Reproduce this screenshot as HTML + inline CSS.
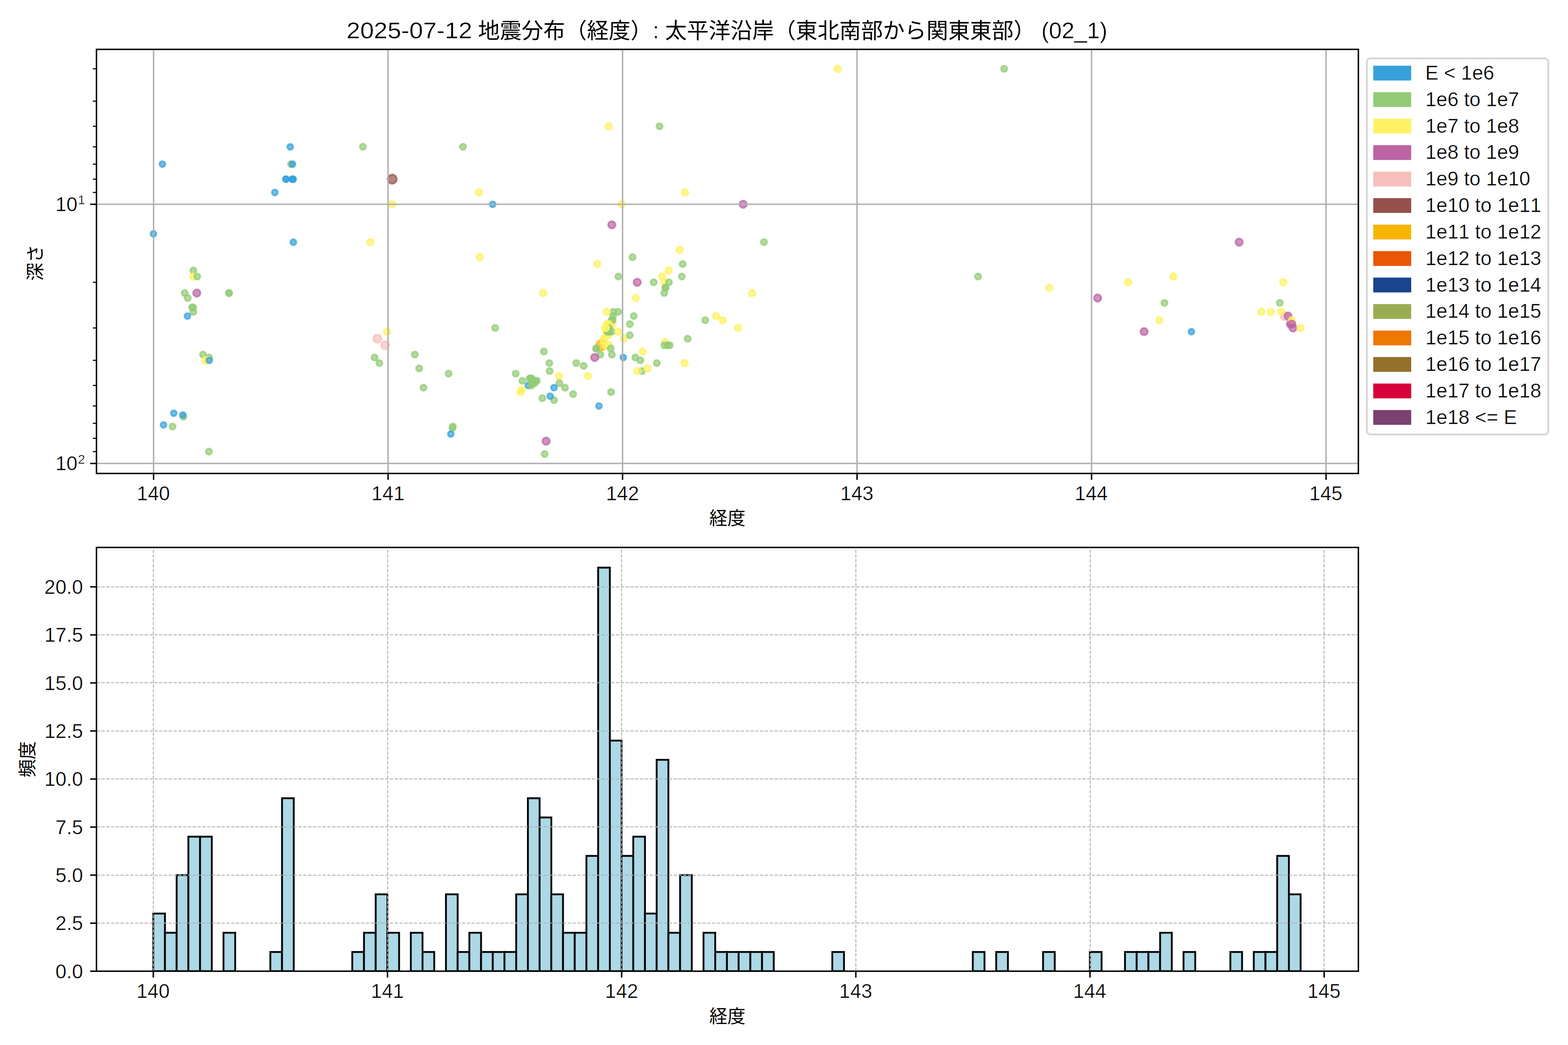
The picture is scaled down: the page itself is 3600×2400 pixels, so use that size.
<!DOCTYPE html>
<html lang="ja"><head><meta charset="utf-8"><title>2025-07-12 地震分布（経度）</title>
<style>html,body{margin:0;padding:0;background:#fff;}svg{display:block;}text{font-family:"Liberation Sans","Noto Sans CJK JP",sans-serif;fill:#000;font-kerning:none;white-space:pre;}text.t{stroke:#fff;stroke-width:0.5px;}text.j{stroke:none;}</style>
</head><body>
<svg width="3600" height="2400" viewBox="0 0 3600 2400">
<rect width="3600" height="2400" fill="#fff"/>
<clipPath id="ct"><rect x="221.50" y="113.40" width="2897.20" height="974.00"/></clipPath>
<g clip-path="url(#ct)">
<g fill-opacity="0.7" stroke-opacity="0.7" stroke-width="4.17">
<circle cx="372.8" cy="377.0" r="6.65" fill="#38A1DB" stroke="#38A1DB"/>
<circle cx="666.3" cy="337.2" r="6.65" fill="#38A1DB" stroke="#38A1DB"/>
<circle cx="668.2" cy="377.0" r="7.00" fill="#93CA76" stroke="#93CA76"/>
<circle cx="671.5" cy="377.0" r="6.65" fill="#38A1DB" stroke="#38A1DB"/>
<circle cx="670.5" cy="411.5" r="6.65" fill="#38A1DB" stroke="#38A1DB"/>
<circle cx="656.4" cy="411.5" r="6.65" fill="#38A1DB" stroke="#38A1DB"/>
<circle cx="656.6" cy="411.5" r="6.65" fill="#38A1DB" stroke="#38A1DB"/>
<circle cx="672.6" cy="411.5" r="6.65" fill="#38A1DB" stroke="#38A1DB"/>
<circle cx="672.9" cy="411.5" r="6.65" fill="#38A1DB" stroke="#38A1DB"/>
<circle cx="631.0" cy="442.0" r="6.65" fill="#38A1DB" stroke="#38A1DB"/>
<circle cx="673.5" cy="556.2" r="6.65" fill="#38A1DB" stroke="#38A1DB"/>
<circle cx="352.3" cy="537.0" r="6.65" fill="#38A1DB" stroke="#38A1DB"/>
<circle cx="443.9" cy="621.1" r="7.00" fill="#93CA76" stroke="#93CA76"/>
<circle cx="443.9" cy="635.1" r="7.57" fill="#FEF263" stroke="#FEF263"/>
<circle cx="452.8" cy="635.1" r="7.00" fill="#93CA76" stroke="#93CA76"/>
<circle cx="424.0" cy="673.0" r="7.00" fill="#93CA76" stroke="#93CA76"/>
<circle cx="451.8" cy="673.0" r="8.33" fill="#BC64A4" stroke="#BC64A4"/>
<circle cx="525.8" cy="673.0" r="7.00" fill="#93CA76" stroke="#93CA76"/>
<circle cx="525.9" cy="673.0" r="7.00" fill="#93CA76" stroke="#93CA76"/>
<circle cx="431.0" cy="684.5" r="7.00" fill="#93CA76" stroke="#93CA76"/>
<circle cx="441.0" cy="706.1" r="7.00" fill="#93CA76" stroke="#93CA76"/>
<circle cx="443.5" cy="706.1" r="7.00" fill="#93CA76" stroke="#93CA76"/>
<circle cx="443.9" cy="716.2" r="7.00" fill="#93CA76" stroke="#93CA76"/>
<circle cx="430.4" cy="725.9" r="6.65" fill="#38A1DB" stroke="#38A1DB"/>
<circle cx="466.1" cy="814.3" r="7.00" fill="#93CA76" stroke="#93CA76"/>
<circle cx="480.1" cy="821.0" r="7.00" fill="#93CA76" stroke="#93CA76"/>
<circle cx="471.6" cy="827.5" r="7.57" fill="#FEF263" stroke="#FEF263"/>
<circle cx="474.2" cy="827.5" r="7.57" fill="#FEF263" stroke="#FEF263"/>
<circle cx="477.0" cy="827.5" r="7.57" fill="#FEF263" stroke="#FEF263"/>
<circle cx="480.5" cy="827.5" r="6.65" fill="#38A1DB" stroke="#38A1DB"/>
<circle cx="398.9" cy="949.0" r="6.65" fill="#38A1DB" stroke="#38A1DB"/>
<circle cx="420.9" cy="957.0" r="7.00" fill="#93CA76" stroke="#93CA76"/>
<circle cx="419.7" cy="953.0" r="6.65" fill="#38A1DB" stroke="#38A1DB"/>
<circle cx="375.5" cy="975.9" r="6.65" fill="#38A1DB" stroke="#38A1DB"/>
<circle cx="396.1" cy="979.5" r="7.00" fill="#93CA76" stroke="#93CA76"/>
<circle cx="479.6" cy="1037.2" r="7.00" fill="#93CA76" stroke="#93CA76"/>
<circle cx="833.1" cy="337.2" r="7.00" fill="#93CA76" stroke="#93CA76"/>
<circle cx="850.3" cy="556.2" r="7.57" fill="#FEF263" stroke="#FEF263"/>
<circle cx="860.0" cy="821.0" r="7.00" fill="#93CA76" stroke="#93CA76"/>
<circle cx="866.4" cy="777.8" r="9.22" fill="#F6BFBC" stroke="#F6BFBC"/>
<circle cx="884.3" cy="793.0" r="9.22" fill="#F6BFBC" stroke="#F6BFBC"/>
<circle cx="888.6" cy="761.7" r="7.57" fill="#FEF263" stroke="#FEF263"/>
<circle cx="870.9" cy="833.9" r="7.00" fill="#93CA76" stroke="#93CA76"/>
<circle cx="900.5" cy="411.5" r="10.31" fill="#96514D" stroke="#96514D"/>
<circle cx="900.5" cy="469.2" r="7.57" fill="#FEF263" stroke="#FEF263"/>
<circle cx="952.4" cy="814.3" r="7.00" fill="#93CA76" stroke="#93CA76"/>
<circle cx="962.5" cy="846.2" r="7.00" fill="#93CA76" stroke="#93CA76"/>
<circle cx="972.3" cy="890.3" r="7.00" fill="#93CA76" stroke="#93CA76"/>
<circle cx="1029.9" cy="858.0" r="7.00" fill="#93CA76" stroke="#93CA76"/>
<circle cx="1039.6" cy="979.5" r="7.00" fill="#93CA76" stroke="#93CA76"/>
<circle cx="1038.8" cy="983.0" r="7.00" fill="#93CA76" stroke="#93CA76"/>
<circle cx="1035.0" cy="996.8" r="6.65" fill="#38A1DB" stroke="#38A1DB"/>
<circle cx="1062.9" cy="337.2" r="7.00" fill="#93CA76" stroke="#93CA76"/>
<circle cx="1099.7" cy="442.0" r="7.57" fill="#FEF263" stroke="#FEF263"/>
<circle cx="1101.4" cy="590.7" r="7.57" fill="#FEF263" stroke="#FEF263"/>
<circle cx="1131.2" cy="469.2" r="6.65" fill="#38A1DB" stroke="#38A1DB"/>
<circle cx="1136.7" cy="753.2" r="7.00" fill="#93CA76" stroke="#93CA76"/>
<circle cx="1184.0" cy="858.0" r="7.00" fill="#93CA76" stroke="#93CA76"/>
<circle cx="1199.3" cy="874.7" r="7.00" fill="#93CA76" stroke="#93CA76"/>
<circle cx="1197.9" cy="895.4" r="7.57" fill="#FEF263" stroke="#FEF263"/>
<circle cx="1194.9" cy="900.3" r="7.57" fill="#FEF263" stroke="#FEF263"/>
<circle cx="1213.0" cy="885.2" r="6.65" fill="#38A1DB" stroke="#38A1DB"/>
<circle cx="1216.0" cy="869.2" r="7.00" fill="#93CA76" stroke="#93CA76"/>
<circle cx="1218.0" cy="869.2" r="7.00" fill="#93CA76" stroke="#93CA76"/>
<circle cx="1220.5" cy="869.2" r="7.00" fill="#93CA76" stroke="#93CA76"/>
<circle cx="1222.0" cy="874.7" r="7.00" fill="#93CA76" stroke="#93CA76"/>
<circle cx="1230.0" cy="874.7" r="7.00" fill="#93CA76" stroke="#93CA76"/>
<circle cx="1232.5" cy="874.7" r="7.00" fill="#93CA76" stroke="#93CA76"/>
<circle cx="1224.0" cy="880.0" r="7.00" fill="#93CA76" stroke="#93CA76"/>
<circle cx="1227.0" cy="880.0" r="7.00" fill="#93CA76" stroke="#93CA76"/>
<circle cx="1219.5" cy="885.2" r="7.00" fill="#93CA76" stroke="#93CA76"/>
<circle cx="1246.7" cy="673.0" r="7.57" fill="#FEF263" stroke="#FEF263"/>
<circle cx="1248.6" cy="807.4" r="7.00" fill="#93CA76" stroke="#93CA76"/>
<circle cx="1261.1" cy="833.9" r="7.00" fill="#93CA76" stroke="#93CA76"/>
<circle cx="1261.8" cy="852.2" r="7.00" fill="#93CA76" stroke="#93CA76"/>
<circle cx="1245.1" cy="914.5" r="7.00" fill="#93CA76" stroke="#93CA76"/>
<circle cx="1253.8" cy="1013.1" r="8.33" fill="#BC64A4" stroke="#BC64A4"/>
<circle cx="1250.5" cy="1042.8" r="7.00" fill="#93CA76" stroke="#93CA76"/>
<circle cx="1283.6" cy="863.7" r="7.57" fill="#FEF263" stroke="#FEF263"/>
<circle cx="1284.4" cy="880.0" r="7.00" fill="#93CA76" stroke="#93CA76"/>
<circle cx="1272.0" cy="890.3" r="6.65" fill="#38A1DB" stroke="#38A1DB"/>
<circle cx="1272.0" cy="919.1" r="7.00" fill="#93CA76" stroke="#93CA76"/>
<circle cx="1263.1" cy="909.9" r="6.65" fill="#38A1DB" stroke="#38A1DB"/>
<circle cx="1297.1" cy="890.3" r="7.00" fill="#93CA76" stroke="#93CA76"/>
<circle cx="1315.9" cy="905.1" r="7.00" fill="#93CA76" stroke="#93CA76"/>
<circle cx="1323.0" cy="833.9" r="7.00" fill="#93CA76" stroke="#93CA76"/>
<circle cx="1340.1" cy="840.2" r="7.00" fill="#93CA76" stroke="#93CA76"/>
<circle cx="1350.1" cy="863.7" r="7.57" fill="#FEF263" stroke="#FEF263"/>
<circle cx="1378.3" cy="814.3" r="7.00" fill="#93CA76" stroke="#93CA76"/>
<circle cx="1365.4" cy="821.0" r="8.33" fill="#BC64A4" stroke="#BC64A4"/>
<circle cx="1371.5" cy="606.4" r="7.57" fill="#FEF263" stroke="#FEF263"/>
<circle cx="1375.1" cy="932.4" r="6.65" fill="#38A1DB" stroke="#38A1DB"/>
<circle cx="1397.5" cy="290.0" r="7.57" fill="#FEF263" stroke="#FEF263"/>
<circle cx="1427.0" cy="469.2" r="7.57" fill="#FEF263" stroke="#FEF263"/>
<circle cx="1404.7" cy="516.3" r="8.33" fill="#BC64A4" stroke="#BC64A4"/>
<circle cx="1419.7" cy="635.1" r="7.00" fill="#93CA76" stroke="#93CA76"/>
<circle cx="1406.6" cy="744.4" r="7.57" fill="#FEF263" stroke="#FEF263"/>
<circle cx="1408.2" cy="716.2" r="7.00" fill="#93CA76" stroke="#93CA76"/>
<circle cx="1419.3" cy="716.2" r="7.00" fill="#93CA76" stroke="#93CA76"/>
<circle cx="1407.4" cy="725.9" r="7.00" fill="#93CA76" stroke="#93CA76"/>
<circle cx="1404.0" cy="735.3" r="7.00" fill="#93CA76" stroke="#93CA76"/>
<circle cx="1406.5" cy="735.3" r="7.00" fill="#93CA76" stroke="#93CA76"/>
<circle cx="1393.0" cy="716.2" r="7.57" fill="#FEF263" stroke="#FEF263"/>
<circle cx="1391.5" cy="769.9" r="7.57" fill="#FEF263" stroke="#FEF263"/>
<circle cx="1394.0" cy="769.9" r="7.57" fill="#FEF263" stroke="#FEF263"/>
<circle cx="1396.0" cy="769.9" r="7.57" fill="#FEF263" stroke="#FEF263"/>
<circle cx="1385.9" cy="777.8" r="7.57" fill="#FEF263" stroke="#FEF263"/>
<circle cx="1393.4" cy="744.4" r="7.57" fill="#FEF263" stroke="#FEF263"/>
<circle cx="1398.0" cy="744.4" r="7.57" fill="#FEF263" stroke="#FEF263"/>
<circle cx="1398.5" cy="753.2" r="7.00" fill="#93CA76" stroke="#93CA76"/>
<circle cx="1394.0" cy="761.7" r="7.00" fill="#93CA76" stroke="#93CA76"/>
<circle cx="1396.5" cy="761.7" r="7.00" fill="#93CA76" stroke="#93CA76"/>
<circle cx="1399.0" cy="761.7" r="7.00" fill="#93CA76" stroke="#93CA76"/>
<circle cx="1404.5" cy="761.7" r="7.00" fill="#93CA76" stroke="#93CA76"/>
<circle cx="1389.8" cy="753.2" r="7.57" fill="#FEF263" stroke="#FEF263"/>
<circle cx="1390.8" cy="753.2" r="7.57" fill="#FEF263" stroke="#FEF263"/>
<circle cx="1419.1" cy="761.7" r="7.57" fill="#FEF263" stroke="#FEF263"/>
<circle cx="1380.8" cy="793.0" r="11.79" fill="#F8B500" stroke="#F8B500"/>
<circle cx="1386.4" cy="785.5" r="7.57" fill="#FEF263" stroke="#FEF263"/>
<circle cx="1390.0" cy="793.0" r="7.57" fill="#FEF263" stroke="#FEF263"/>
<circle cx="1398.2" cy="793.0" r="7.57" fill="#FEF263" stroke="#FEF263"/>
<circle cx="1368.6" cy="800.3" r="7.00" fill="#93CA76" stroke="#93CA76"/>
<circle cx="1368.9" cy="800.3" r="7.00" fill="#93CA76" stroke="#93CA76"/>
<circle cx="1402.0" cy="800.3" r="7.00" fill="#93CA76" stroke="#93CA76"/>
<circle cx="1403.0" cy="900.3" r="7.00" fill="#93CA76" stroke="#93CA76"/>
<circle cx="1404.8" cy="814.3" r="7.00" fill="#93CA76" stroke="#93CA76"/>
<circle cx="1432.0" cy="777.8" r="7.57" fill="#FEF263" stroke="#FEF263"/>
<circle cx="1431.0" cy="821.0" r="6.65" fill="#38A1DB" stroke="#38A1DB"/>
<circle cx="1452.2" cy="590.7" r="7.00" fill="#93CA76" stroke="#93CA76"/>
<circle cx="1455.0" cy="725.9" r="7.00" fill="#93CA76" stroke="#93CA76"/>
<circle cx="1446.0" cy="744.4" r="7.00" fill="#93CA76" stroke="#93CA76"/>
<circle cx="1446.0" cy="769.9" r="7.00" fill="#93CA76" stroke="#93CA76"/>
<circle cx="1463.0" cy="648.4" r="8.33" fill="#BC64A4" stroke="#BC64A4"/>
<circle cx="1459.3" cy="684.5" r="7.57" fill="#FEF263" stroke="#FEF263"/>
<circle cx="1475.5" cy="807.4" r="7.57" fill="#FEF263" stroke="#FEF263"/>
<circle cx="1458.6" cy="821.0" r="7.00" fill="#93CA76" stroke="#93CA76"/>
<circle cx="1470.2" cy="827.5" r="7.00" fill="#93CA76" stroke="#93CA76"/>
<circle cx="1473.9" cy="852.2" r="7.00" fill="#93CA76" stroke="#93CA76"/>
<circle cx="1463.7" cy="852.2" r="7.57" fill="#FEF263" stroke="#FEF263"/>
<circle cx="1500.7" cy="648.4" r="7.00" fill="#93CA76" stroke="#93CA76"/>
<circle cx="1508.0" cy="833.9" r="7.00" fill="#93CA76" stroke="#93CA76"/>
<circle cx="1486.5" cy="846.2" r="7.57" fill="#FEF263" stroke="#FEF263"/>
<circle cx="1514.2" cy="290.0" r="7.00" fill="#93CA76" stroke="#93CA76"/>
<circle cx="1535.0" cy="621.1" r="7.57" fill="#FEF263" stroke="#FEF263"/>
<circle cx="1520.4" cy="635.1" r="7.57" fill="#FEF263" stroke="#FEF263"/>
<circle cx="1525.4" cy="648.4" r="7.57" fill="#FEF263" stroke="#FEF263"/>
<circle cx="1535.7" cy="648.4" r="7.00" fill="#93CA76" stroke="#93CA76"/>
<circle cx="1527.7" cy="661.0" r="7.00" fill="#93CA76" stroke="#93CA76"/>
<circle cx="1527.9" cy="661.0" r="7.00" fill="#93CA76" stroke="#93CA76"/>
<circle cx="1525.0" cy="673.0" r="7.00" fill="#93CA76" stroke="#93CA76"/>
<circle cx="1526.7" cy="785.5" r="7.57" fill="#FEF263" stroke="#FEF263"/>
<circle cx="1525.4" cy="793.0" r="7.00" fill="#93CA76" stroke="#93CA76"/>
<circle cx="1533.0" cy="793.0" r="7.00" fill="#93CA76" stroke="#93CA76"/>
<circle cx="1537.6" cy="793.0" r="7.00" fill="#93CA76" stroke="#93CA76"/>
<circle cx="1560.0" cy="574.0" r="7.57" fill="#FEF263" stroke="#FEF263"/>
<circle cx="1572.5" cy="442.0" r="7.57" fill="#FEF263" stroke="#FEF263"/>
<circle cx="1567.1" cy="606.4" r="7.00" fill="#93CA76" stroke="#93CA76"/>
<circle cx="1565.4" cy="635.1" r="7.00" fill="#93CA76" stroke="#93CA76"/>
<circle cx="1578.8" cy="777.8" r="7.00" fill="#93CA76" stroke="#93CA76"/>
<circle cx="1571.7" cy="833.9" r="7.57" fill="#FEF263" stroke="#FEF263"/>
<circle cx="1619.2" cy="735.3" r="7.00" fill="#93CA76" stroke="#93CA76"/>
<circle cx="1644.2" cy="725.9" r="7.57" fill="#FEF263" stroke="#FEF263"/>
<circle cx="1659.5" cy="735.3" r="7.57" fill="#FEF263" stroke="#FEF263"/>
<circle cx="1694.5" cy="753.2" r="7.57" fill="#FEF263" stroke="#FEF263"/>
<circle cx="1706.2" cy="469.2" r="8.33" fill="#BC64A4" stroke="#BC64A4"/>
<circle cx="1726.8" cy="673.0" r="7.57" fill="#FEF263" stroke="#FEF263"/>
<circle cx="1753.9" cy="556.2" r="7.00" fill="#93CA76" stroke="#93CA76"/>
<circle cx="1923.4" cy="158.0" r="7.57" fill="#FEF263" stroke="#FEF263"/>
<circle cx="2245.6" cy="635.1" r="7.00" fill="#93CA76" stroke="#93CA76"/>
<circle cx="2305.5" cy="158.0" r="7.00" fill="#93CA76" stroke="#93CA76"/>
<circle cx="2408.8" cy="661.0" r="7.57" fill="#FEF263" stroke="#FEF263"/>
<circle cx="2520.1" cy="684.5" r="8.33" fill="#BC64A4" stroke="#BC64A4"/>
<circle cx="2590.0" cy="648.4" r="7.57" fill="#FEF263" stroke="#FEF263"/>
<circle cx="2626.7" cy="761.7" r="8.33" fill="#BC64A4" stroke="#BC64A4"/>
<circle cx="2661.6" cy="735.3" r="7.57" fill="#FEF263" stroke="#FEF263"/>
<circle cx="2673.4" cy="695.5" r="7.00" fill="#93CA76" stroke="#93CA76"/>
<circle cx="2694.0" cy="635.1" r="7.57" fill="#FEF263" stroke="#FEF263"/>
<circle cx="2735.4" cy="761.7" r="6.65" fill="#38A1DB" stroke="#38A1DB"/>
<circle cx="2844.9" cy="556.2" r="8.33" fill="#BC64A4" stroke="#BC64A4"/>
<circle cx="2896.0" cy="716.2" r="7.57" fill="#FEF263" stroke="#FEF263"/>
<circle cx="2917.6" cy="716.2" r="7.57" fill="#FEF263" stroke="#FEF263"/>
<circle cx="2946.4" cy="648.4" r="7.57" fill="#FEF263" stroke="#FEF263"/>
<circle cx="2938.2" cy="695.5" r="7.00" fill="#93CA76" stroke="#93CA76"/>
<circle cx="2949.5" cy="725.9" r="9.22" fill="#F6BFBC" stroke="#F6BFBC"/>
<circle cx="2941.8" cy="716.2" r="7.57" fill="#FEF263" stroke="#FEF263"/>
<circle cx="2957.2" cy="725.9" r="8.33" fill="#BC64A4" stroke="#BC64A4"/>
<circle cx="2962.4" cy="744.4" r="8.33" fill="#BC64A4" stroke="#BC64A4"/>
<circle cx="2966.2" cy="735.3" r="7.57" fill="#FEF263" stroke="#FEF263"/>
<circle cx="2965.9" cy="744.4" r="8.33" fill="#BC64A4" stroke="#BC64A4"/>
<circle cx="2968.5" cy="753.2" r="8.33" fill="#BC64A4" stroke="#BC64A4"/>
<circle cx="2985.9" cy="753.2" r="7.57" fill="#FEF263" stroke="#FEF263"/>
</g>
<g stroke="#b0b0b0" stroke-width="3.33">
<line x1="352.60" y1="113.40" x2="352.60" y2="1087.40"/>
<line x1="890.98" y1="113.40" x2="890.98" y2="1087.40"/>
<line x1="1429.36" y1="113.40" x2="1429.36" y2="1087.40"/>
<line x1="1967.74" y1="113.40" x2="1967.74" y2="1087.40"/>
<line x1="2506.12" y1="113.40" x2="2506.12" y2="1087.40"/>
<line x1="3044.50" y1="113.40" x2="3044.50" y2="1087.40"/>
<line x1="221.50" y1="469.20" x2="3118.70" y2="469.20"/>
<line x1="221.50" y1="1064.40" x2="3118.70" y2="1064.40"/>
</g></g>
<g stroke="#000" stroke-width="3.33">
<line x1="352.60" y1="1087.40" x2="352.60" y2="1101.98"/>
<line x1="890.98" y1="1087.40" x2="890.98" y2="1101.98"/>
<line x1="1429.36" y1="1087.40" x2="1429.36" y2="1101.98"/>
<line x1="1967.74" y1="1087.40" x2="1967.74" y2="1101.98"/>
<line x1="2506.12" y1="1087.40" x2="2506.12" y2="1101.98"/>
<line x1="3044.50" y1="1087.40" x2="3044.50" y2="1101.98"/>
<line x1="206.92" y1="469.20" x2="221.50" y2="469.20"/>
<line x1="206.92" y1="1064.40" x2="221.50" y2="1064.40"/>
</g>
<g stroke="#000" stroke-width="2.50">
<line x1="213.17" y1="157.98" x2="221.50" y2="157.98"/>
<line x1="213.17" y1="232.35" x2="221.50" y2="232.35"/>
<line x1="213.17" y1="290.03" x2="221.50" y2="290.03"/>
<line x1="213.17" y1="337.16" x2="221.50" y2="337.16"/>
<line x1="213.17" y1="377.00" x2="221.50" y2="377.00"/>
<line x1="213.17" y1="411.52" x2="221.50" y2="411.52"/>
<line x1="213.17" y1="441.97" x2="221.50" y2="441.97"/>
<line x1="213.17" y1="648.37" x2="221.50" y2="648.37"/>
<line x1="213.17" y1="753.18" x2="221.50" y2="753.18"/>
<line x1="213.17" y1="827.55" x2="221.50" y2="827.55"/>
<line x1="213.17" y1="885.23" x2="221.50" y2="885.23"/>
<line x1="213.17" y1="932.36" x2="221.50" y2="932.36"/>
<line x1="213.17" y1="972.20" x2="221.50" y2="972.20"/>
<line x1="213.17" y1="1006.72" x2="221.50" y2="1006.72"/>
<line x1="213.17" y1="1037.17" x2="221.50" y2="1037.17"/>
</g>
<rect x="221.50" y="113.40" width="2897.20" height="974.00" fill="none" stroke="#000" stroke-width="3.33"/>
<text class="t" x="314.11" y="1149.00" font-size="45.60">140</text>
<text class="t" x="852.72" y="1149.00" font-size="45.60">141</text>
<text class="t" x="1391.13" y="1149.00" font-size="45.60">142</text>
<text class="t" x="1929.36" y="1149.00" font-size="45.60">143</text>
<text class="t" x="2467.41" y="1149.00" font-size="45.60">144</text>
<text class="t" x="3006.08" y="1149.00" font-size="45.60">145</text>
<text class="t" x="127.26" y="484.80" font-size="45.60">10</text>
<text class="t" x="178.72" y="469.40" font-size="29.87">1</text>
<text class="t" x="127.26" y="1080.00" font-size="45.60">10</text>
<text class="t" x="178.70" y="1064.60" font-size="29.87">2</text>
<text class="j" x="1670.1" y="1204.6" font-size="41.67" text-anchor="middle">経度</text>
<text class="j" x="0" y="0" font-size="41.67" transform="translate(96.30,645.07) rotate(-90)">深さ</text>
<text class="t" transform="translate(795.56,88.30) scale(1.0804,1)" font-size="52.20">2025-07-12</text>
<text class="j" x="1097.40" y="88.30" font-size="50">地震分布（経度）</text>
<text class="t" x="1498.53" y="88.30" font-size="52.20">:</text>
<text class="j" x="1527.00" y="88.30" font-size="50">太平洋沿岸（東北南部から関東東部）</text>
<text class="t" transform="translate(2390.74,88.30) scale(1.0061,1)" font-size="52.20">(02_1)</text>
<rect x="3138.20" y="134.10" width="416.60" height="863.80" rx="8.3" ry="8.3" fill="#fff" fill-opacity="0.8" stroke="#cccccc" stroke-opacity="0.8" stroke-width="4.17"/>
<rect x="3152.9" y="150.90" width="87.1" height="34.0" fill="#38A1DB"/>
<text class="t" x="3272.16" y="183.00" font-size="45.60">E &lt; 1e6</text>
<rect x="3152.9" y="211.73" width="87.1" height="34.0" fill="#93CA76"/>
<text class="t" x="3272.43" y="243.83" font-size="45.60">1e6 to 1e7</text>
<rect x="3152.9" y="272.56" width="87.1" height="34.0" fill="#FEF263"/>
<text class="t" x="3272.43" y="304.66" font-size="45.60">1e7 to 1e8</text>
<rect x="3152.9" y="333.39" width="87.1" height="34.0" fill="#BC64A4"/>
<text class="t" x="3272.43" y="365.49" font-size="45.60">1e8 to 1e9</text>
<rect x="3152.9" y="394.22" width="87.1" height="34.0" fill="#F6BFBC"/>
<text class="t" x="3272.43" y="426.32" font-size="45.60">1e9 to 1e10</text>
<rect x="3152.9" y="455.05" width="87.1" height="34.0" fill="#96514D"/>
<text class="t" x="3272.43" y="487.15" font-size="45.60">1e10 to 1e11</text>
<rect x="3152.9" y="515.88" width="87.1" height="34.0" fill="#F8B500"/>
<text class="t" x="3272.43" y="547.98" font-size="45.60">1e11 to 1e12</text>
<rect x="3152.9" y="576.71" width="87.1" height="34.0" fill="#EA5506"/>
<text class="t" x="3272.43" y="608.81" font-size="45.60">1e12 to 1e13</text>
<rect x="3152.9" y="637.54" width="87.1" height="34.0" fill="#19448E"/>
<text class="t" x="3272.43" y="669.64" font-size="45.60">1e13 to 1e14</text>
<rect x="3152.9" y="698.37" width="87.1" height="34.0" fill="#9BAB50"/>
<text class="t" x="3272.43" y="730.47" font-size="45.60">1e14 to 1e15</text>
<rect x="3152.9" y="759.20" width="87.1" height="34.0" fill="#EE7800"/>
<text class="t" x="3272.43" y="791.30" font-size="45.60">1e15 to 1e16</text>
<rect x="3152.9" y="820.03" width="87.1" height="34.0" fill="#94702D"/>
<text class="t" x="3272.43" y="852.13" font-size="45.60">1e16 to 1e17</text>
<rect x="3152.9" y="880.86" width="87.1" height="34.0" fill="#D7003A"/>
<text class="t" x="3272.43" y="912.96" font-size="45.60">1e17 to 1e18</text>
<rect x="3152.9" y="941.69" width="87.1" height="34.0" fill="#7A4171"/>
<text class="t" x="3272.43" y="973.79" font-size="45.60">1e18 &lt;= E</text>
<clipPath id="cb"><rect x="221.50" y="1257.30" width="2897.20" height="973.20"/></clipPath>
<g clip-path="url(#cb)">
<g fill="#ADD8E6" stroke="#000" stroke-width="4.17" stroke-linejoin="miter">
<rect x="351.85" y="2098.09" width="26.88" height="132.41"/>
<rect x="378.73" y="2142.23" width="26.88" height="88.27"/>
<rect x="405.61" y="2009.82" width="26.88" height="220.68"/>
<rect x="432.49" y="1921.55" width="26.88" height="308.95"/>
<rect x="459.37" y="1921.55" width="26.88" height="308.95"/>
<rect x="513.13" y="2142.23" width="26.88" height="88.27"/>
<rect x="620.65" y="2186.36" width="26.88" height="44.14"/>
<rect x="647.53" y="1833.28" width="26.88" height="397.22"/>
<rect x="808.81" y="2186.36" width="26.88" height="44.14"/>
<rect x="835.69" y="2142.23" width="26.88" height="88.27"/>
<rect x="862.57" y="2053.96" width="26.88" height="176.54"/>
<rect x="889.45" y="2142.23" width="26.88" height="88.27"/>
<rect x="943.21" y="2142.23" width="26.88" height="88.27"/>
<rect x="970.09" y="2186.36" width="26.88" height="44.14"/>
<rect x="1023.85" y="2053.96" width="26.88" height="176.54"/>
<rect x="1050.73" y="2186.36" width="26.88" height="44.14"/>
<rect x="1077.61" y="2142.23" width="26.88" height="88.27"/>
<rect x="1104.49" y="2186.36" width="26.88" height="44.14"/>
<rect x="1131.37" y="2186.36" width="26.88" height="44.14"/>
<rect x="1158.25" y="2186.36" width="26.88" height="44.14"/>
<rect x="1185.13" y="2053.96" width="26.88" height="176.54"/>
<rect x="1212.01" y="1833.28" width="26.88" height="397.22"/>
<rect x="1238.89" y="1877.41" width="26.88" height="353.09"/>
<rect x="1265.77" y="2053.96" width="26.88" height="176.54"/>
<rect x="1292.65" y="2142.23" width="26.88" height="88.27"/>
<rect x="1319.53" y="2142.23" width="26.88" height="88.27"/>
<rect x="1346.41" y="1965.68" width="26.88" height="264.82"/>
<rect x="1373.29" y="1303.64" width="26.88" height="926.86"/>
<rect x="1400.17" y="1700.87" width="26.88" height="529.63"/>
<rect x="1427.05" y="1965.68" width="26.88" height="264.82"/>
<rect x="1453.93" y="1921.55" width="26.88" height="308.95"/>
<rect x="1480.81" y="2098.09" width="26.88" height="132.41"/>
<rect x="1507.69" y="1745.00" width="26.88" height="485.50"/>
<rect x="1534.57" y="2142.23" width="26.88" height="88.27"/>
<rect x="1561.45" y="2009.82" width="26.88" height="220.68"/>
<rect x="1615.21" y="2142.23" width="26.88" height="88.27"/>
<rect x="1642.09" y="2186.36" width="26.88" height="44.14"/>
<rect x="1668.97" y="2186.36" width="26.88" height="44.14"/>
<rect x="1695.85" y="2186.36" width="26.88" height="44.14"/>
<rect x="1722.73" y="2186.36" width="26.88" height="44.14"/>
<rect x="1749.61" y="2186.36" width="26.88" height="44.14"/>
<rect x="1910.89" y="2186.36" width="26.88" height="44.14"/>
<rect x="2233.45" y="2186.36" width="26.88" height="44.14"/>
<rect x="2287.21" y="2186.36" width="26.88" height="44.14"/>
<rect x="2394.73" y="2186.36" width="26.88" height="44.14"/>
<rect x="2502.25" y="2186.36" width="26.88" height="44.14"/>
<rect x="2582.89" y="2186.36" width="26.88" height="44.14"/>
<rect x="2609.77" y="2186.36" width="26.88" height="44.14"/>
<rect x="2636.65" y="2186.36" width="26.88" height="44.14"/>
<rect x="2663.53" y="2142.23" width="26.88" height="88.27"/>
<rect x="2717.29" y="2186.36" width="26.88" height="44.14"/>
<rect x="2824.81" y="2186.36" width="26.88" height="44.14"/>
<rect x="2878.57" y="2186.36" width="26.88" height="44.14"/>
<rect x="2905.45" y="2186.36" width="26.88" height="44.14"/>
<rect x="2932.33" y="1965.68" width="26.88" height="264.82"/>
<rect x="2959.21" y="2053.96" width="26.88" height="176.54"/>
</g>
<g stroke="#b0b0b0" stroke-width="2.08" stroke-dasharray="7.7 3.34">
<line x1="352.0" y1="2230.50" x2="352.0" y2="1257.30"/>
<line x1="890.0" y1="2230.50" x2="890.0" y2="1257.30"/>
<line x1="1427.0" y1="2230.50" x2="1427.0" y2="1257.30"/>
<line x1="1965.0" y1="2230.50" x2="1965.0" y2="1257.30"/>
<line x1="2503.0" y1="2230.50" x2="2503.0" y2="1257.30"/>
<line x1="3040.0" y1="2230.50" x2="3040.0" y2="1257.30"/>
<line x1="221.50" y1="2230.0" x2="3118.70" y2="2230.0"/>
<line x1="221.50" y1="2120.0" x2="3118.70" y2="2120.0"/>
<line x1="221.50" y1="2010.0" x2="3118.70" y2="2010.0"/>
<line x1="221.50" y1="1899.0" x2="3118.70" y2="1899.0"/>
<line x1="221.50" y1="1789.0" x2="3118.70" y2="1789.0"/>
<line x1="221.50" y1="1679.0" x2="3118.70" y2="1679.0"/>
<line x1="221.50" y1="1568.0" x2="3118.70" y2="1568.0"/>
<line x1="221.50" y1="1458.0" x2="3118.70" y2="1458.0"/>
<line x1="221.50" y1="1348.0" x2="3118.70" y2="1348.0"/>
</g></g>
<g stroke="#000" stroke-width="3.33">
<line x1="352.00" y1="2230.50" x2="352.00" y2="2245.08"/>
<line x1="889.64" y1="2230.50" x2="889.64" y2="2245.08"/>
<line x1="1427.28" y1="2230.50" x2="1427.28" y2="2245.08"/>
<line x1="1964.92" y1="2230.50" x2="1964.92" y2="2245.08"/>
<line x1="2502.56" y1="2230.50" x2="2502.56" y2="2245.08"/>
<line x1="3040.20" y1="2230.50" x2="3040.20" y2="2245.08"/>
<line x1="206.92" y1="2230.50" x2="221.50" y2="2230.50"/>
<line x1="206.92" y1="2120.16" x2="221.50" y2="2120.16"/>
<line x1="206.92" y1="2009.82" x2="221.50" y2="2009.82"/>
<line x1="206.92" y1="1899.48" x2="221.50" y2="1899.48"/>
<line x1="206.92" y1="1789.14" x2="221.50" y2="1789.14"/>
<line x1="206.92" y1="1678.80" x2="221.50" y2="1678.80"/>
<line x1="206.92" y1="1568.46" x2="221.50" y2="1568.46"/>
<line x1="206.92" y1="1458.12" x2="221.50" y2="1458.12"/>
<line x1="206.92" y1="1347.78" x2="221.50" y2="1347.78"/>
</g>
<rect x="221.50" y="1257.30" width="2897.20" height="973.20" fill="none" stroke="#000" stroke-width="3.33"/>
<text class="t" x="313.51" y="2292.10" font-size="45.60">140</text>
<text class="t" x="851.38" y="2292.10" font-size="45.60">141</text>
<text class="t" x="1389.05" y="2292.10" font-size="45.60">142</text>
<text class="t" x="1926.54" y="2292.10" font-size="45.60">143</text>
<text class="t" x="2463.85" y="2292.10" font-size="45.60">144</text>
<text class="t" x="3001.78" y="2292.10" font-size="45.60">145</text>
<text class="t" x="127.19" y="2246.70" font-size="45.60">0.0</text>
<text class="t" x="127.32" y="2136.36" font-size="45.60">2.5</text>
<text class="t" x="127.19" y="2026.02" font-size="45.60">5.0</text>
<text class="t" x="127.32" y="1915.68" font-size="45.60">7.5</text>
<text class="t" x="101.83" y="1805.34" font-size="45.60">10.0</text>
<text class="t" x="101.96" y="1695.00" font-size="45.60">12.5</text>
<text class="t" x="101.83" y="1584.66" font-size="45.60">15.0</text>
<text class="t" x="101.96" y="1474.32" font-size="45.60">17.5</text>
<text class="t" x="101.83" y="1363.98" font-size="45.60">20.0</text>
<text class="j" x="1670.1" y="2348.5" font-size="41.67" text-anchor="middle">経度</text>
<text class="j" x="0" y="0" font-size="41.67" transform="translate(77.50,1785.57) rotate(-90)">頻度</text>
</svg>
</body></html>
